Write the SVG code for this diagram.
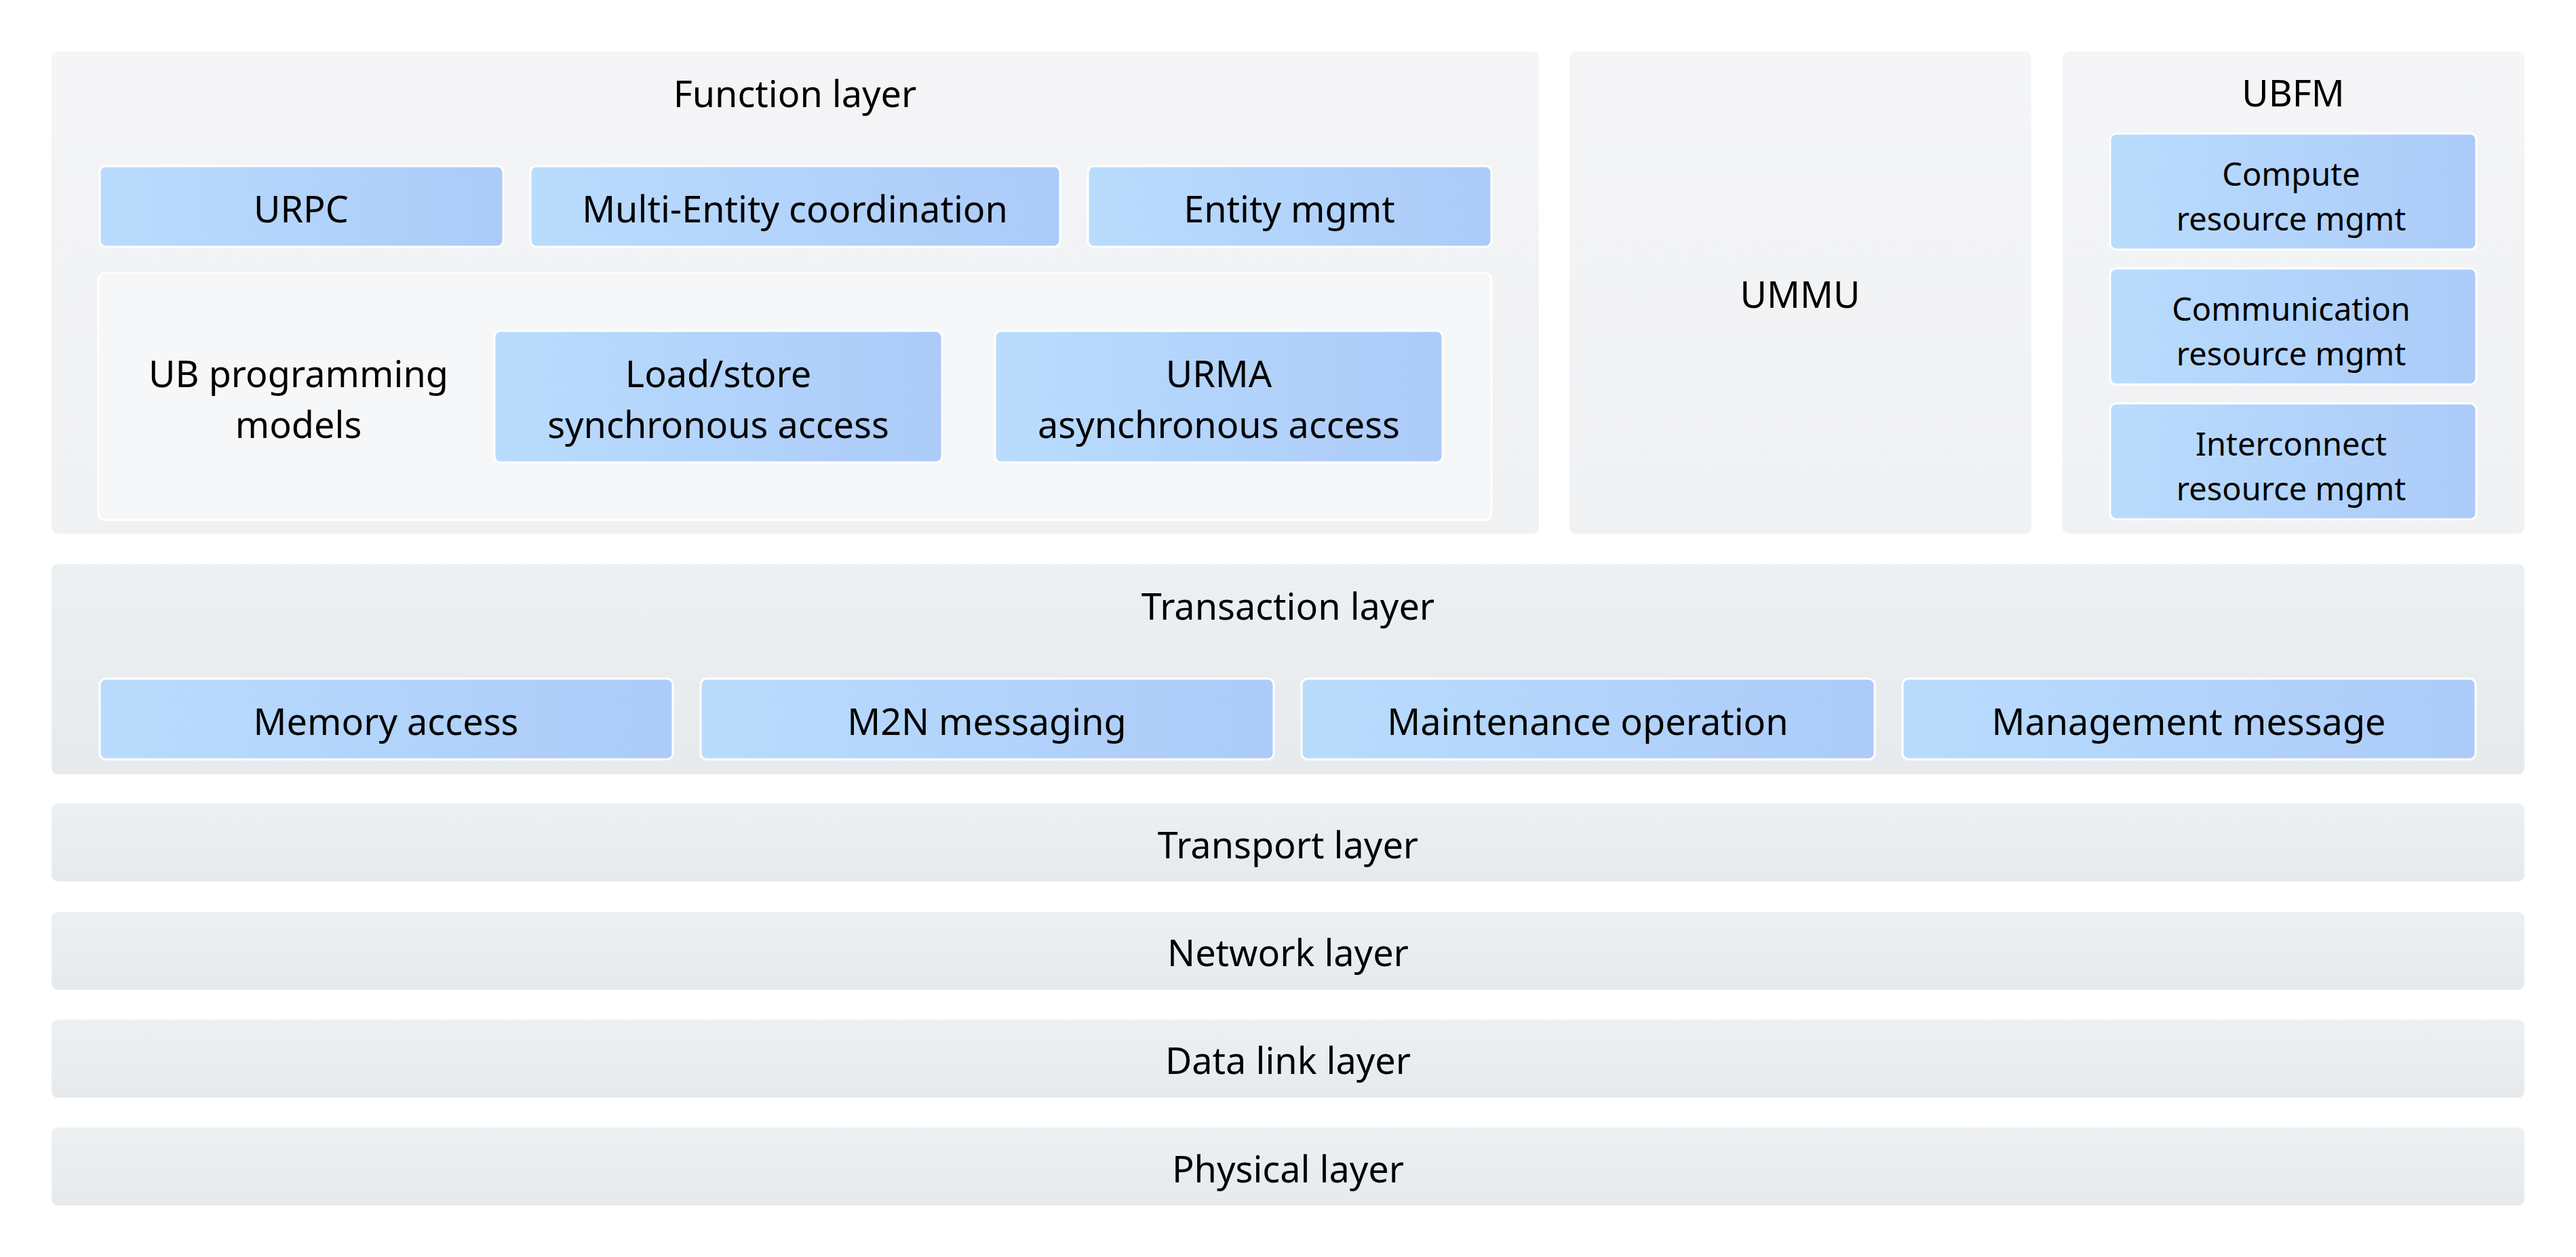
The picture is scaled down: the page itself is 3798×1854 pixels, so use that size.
<svg xmlns="http://www.w3.org/2000/svg" width="3798" height="1854" viewBox="0 0 3798 1854">
<defs>
<linearGradient id="blue" x1="0" y1="0" x2="1" y2="0">
<stop offset="0" stop-color="#B9DCFD"/>
<stop offset="1" stop-color="#ACCBF9"/>
</linearGradient>
<linearGradient id="grayTop" x1="0" y1="0" x2="0" y2="1">
<stop offset="0" stop-color="#F4F5F7"/>
<stop offset="1" stop-color="#EFF1F3"/>
</linearGradient>
<linearGradient id="grayMid" x1="0" y1="0" x2="0" y2="1">
<stop offset="0" stop-color="#EDF0F2"/>
<stop offset="1" stop-color="#E7EAED"/>
</linearGradient>
<linearGradient id="grayBar" x1="0" y1="0" x2="0" y2="1">
<stop offset="0" stop-color="#EDF0F2"/>
<stop offset="1" stop-color="#E7EAED"/>
</linearGradient>
</defs>
<style>
text{font-family:"Noto Sans","Liberation Sans",sans-serif;fill:#000;text-anchor:middle}
.t{font-size:54px}
.s{font-size:47px}
.outer{fill:url(#grayTop);stroke:#FFFFFF;stroke-width:2}
.mid{fill:url(#grayMid);stroke:#FFFFFF;stroke-width:2}
.bar{fill:url(#grayBar);stroke:#FFFFFF;stroke-width:2}
.inner{fill:#F6F7F8;stroke:#FFFFFF;stroke-width:3}
.blue{fill:url(#blue);stroke:#FFFFFF;stroke-width:3}
</style>
<rect width="3798" height="1854" fill="#FFFFFF"/>

<g id="function-layer">
<rect class="outer" x="75" y="75" width="2195" height="713" rx="10"/>
<text class="t" x="1172" y="158">Function layer</text>
</g>
<g id="urpc">
<rect class="blue" x="147" y="245" width="595" height="119" rx="9"/>
<text class="t" x="444" y="328">URPC</text>
</g>
<g id="multi-entity">
<rect class="blue" x="782" y="245" width="781" height="119" rx="9"/>
<text class="t" x="1172" y="328">Multi-Entity coordination</text>
</g>
<g id="entity-mgmt">
<rect class="blue" x="1604" y="245" width="595" height="119" rx="9"/>
<text class="t" x="1901" y="328">Entity mgmt</text>
</g>
<g id="ub-programming-models">
<rect class="inner" x="145" y="403" width="2054" height="364" rx="10"/>
<text class="t" x="440" y="571">UB programming</text>
<text class="t" x="440" y="646">models</text>
</g>
<g id="load-store">
<rect class="blue" x="729" y="488" width="660" height="194" rx="9"/>
<text class="t" x="1059" y="571">Load/store</text>
<text class="t" x="1059" y="646">synchronous access</text>
</g>
<g id="urma">
<rect class="blue" x="1467" y="488" width="660" height="194" rx="9"/>
<text class="t" x="1797" y="571">URMA</text>
<text class="t" x="1797" y="646">asynchronous access</text>
</g>

<g id="ummu">
<rect class="outer" x="2313" y="75" width="683" height="713" rx="10"/>
<text class="t" x="2654" y="454">UMMU</text>
</g>

<g id="ubfm">
<rect class="outer" x="3040" y="75" width="683" height="713" rx="10"/>
<text class="t" x="3381" y="157">UBFM</text>
</g>
<g id="compute-mgmt">
<rect class="blue" x="3111" y="197" width="540" height="171" rx="9"/>
<text class="s" x="3378" y="274">Compute</text>
<text class="s" x="3378" y="340">resource mgmt</text>
</g>
<g id="communication-mgmt">
<rect class="blue" x="3111" y="396" width="540" height="171" rx="9"/>
<text class="s" x="3378" y="473">Communication</text>
<text class="s" x="3378" y="539">resource mgmt</text>
</g>
<g id="interconnect-mgmt">
<rect class="blue" x="3111" y="595" width="540" height="171" rx="9"/>
<text class="s" x="3378" y="672">Interconnect</text>
<text class="s" x="3378" y="738">resource mgmt</text>
</g>

<g id="transaction-layer">
<rect class="mid" x="75" y="831" width="3648" height="312" rx="10"/>
<text class="t" x="1899" y="914">Transaction layer</text>
</g>
<g id="memory-access">
<rect class="blue" x="147" y="1001" width="845" height="119" rx="9"/>
<text class="t" x="569" y="1084">Memory access</text>
</g>
<g id="m2n-messaging">
<rect class="blue" x="1033" y="1001" width="845" height="119" rx="9"/>
<text class="t" x="1455" y="1084">M2N messaging</text>
</g>
<g id="maintenance-operation">
<rect class="blue" x="1919" y="1001" width="845" height="119" rx="9"/>
<text class="t" x="2341" y="1084">Maintenance operation</text>
</g>
<g id="management-message">
<rect class="blue" x="2805" y="1001" width="845" height="119" rx="9"/>
<text class="t" x="3227" y="1084">Management message</text>
</g>

<g id="transport-layer">
<rect class="bar" x="75" y="1184" width="3648" height="117" rx="10"/>
<text class="t" x="1899" y="1266">Transport layer</text>
</g>
<g id="network-layer">
<rect class="bar" x="75" y="1344" width="3648" height="117" rx="10"/>
<text class="t" x="1899" y="1425">Network layer</text>
</g>
<g id="data-link-layer">
<rect class="bar" x="75" y="1503" width="3648" height="117" rx="10"/>
<text class="t" x="1899" y="1584">Data link layer</text>
</g>
<g id="physical-layer">
<rect class="bar" x="75" y="1662" width="3648" height="117" rx="10"/>
<text class="t" x="1899" y="1744">Physical layer</text>
</g>

<g id="connectors"></g>
</svg>
